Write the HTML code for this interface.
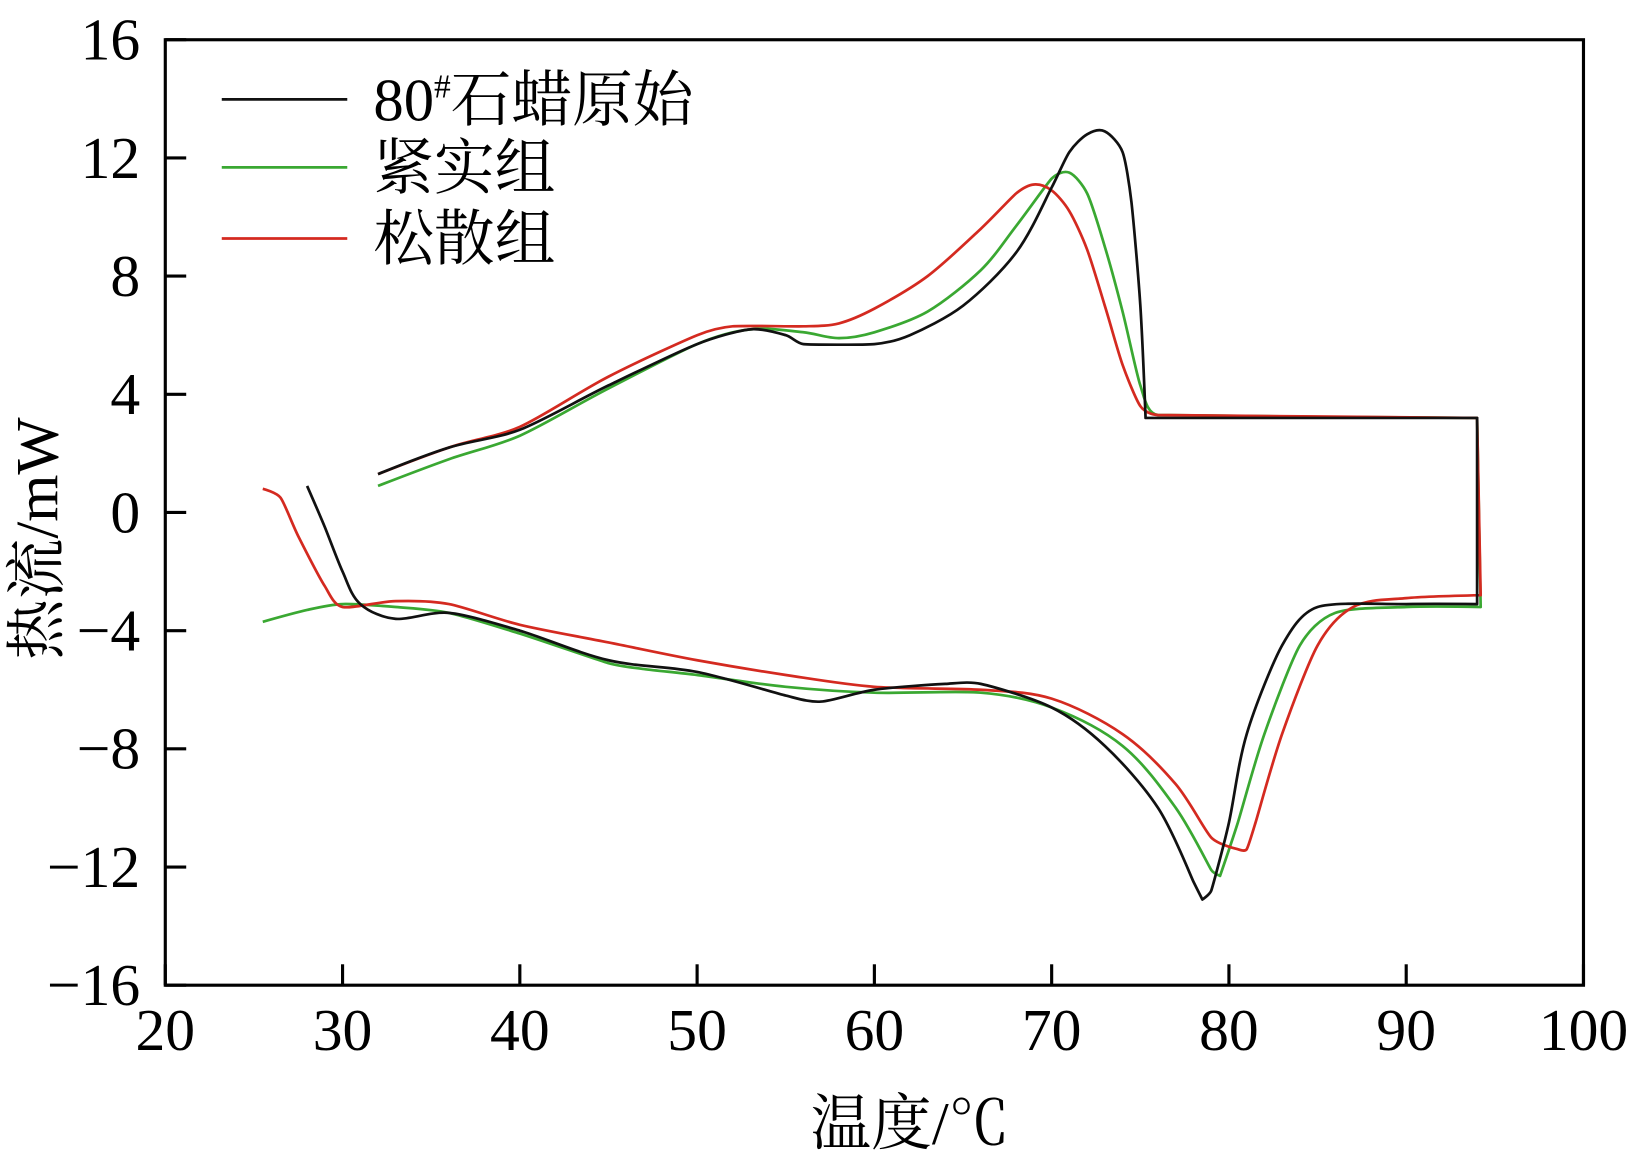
<!DOCTYPE html>
<html><head><meta charset="utf-8"><style>
html,body{margin:0;padding:0;background:#fff;}
svg{display:block;}
text{font-family:"Liberation Serif","Noto Serif CJK SC",serif;fill:#000;}
</style></head><body>
<svg id="chart" width="1640" height="1163" viewBox="0 0 1568 1112" xmlns="http://www.w3.org/2000/svg">
<g id="plot"></g>
</svg>
<script>
const xTicks=[20,30,40,50,60,70,80,90,100];
const yTicks=[16,12,8,4,0,-4,-8,-12,-16];
const blackX=[32,36,40,45,50,53,55,56,60,62,65,68,70,71,72,73,74,74.5,75,75.3,94,94,90,85,83,81,80,79,78.5,78,76,73,70,66,64,60,57,55,50,45,40,36,33,31,30,29,28];
const blackY=[1.3,2.2,2.8,4.3,5.7,6.2,6.0,5.7,5.7,6.0,7.0,8.8,11.0,12.2,12.8,12.9,12.2,10.5,7.0,3.2,3.2,-3.1,-3.1,-3.2,-4.5,-7.5,-10.5,-12.8,-13.1,-12.5,-10,-7.9,-6.6,-5.8,-5.8,-6.0,-6.4,-6.2,-5.4,-5.0,-4.0,-3.4,-3.6,-3.1,-2.0,-0.5,0.9];
const greenX=[32,36,40,45,50,53,56,58,60,63,66,68,70,71,72,73,74,75,76,94,94.2,90,86,84,82,80.5,79.5,79,77,74,70,66,60,55,50,47,45,40,36,33,30,28,25.5];
const greenY=[0.9,1.8,2.6,4.2,5.7,6.2,6.1,5.9,6.1,6.8,8.2,9.7,11.3,11.5,10.8,9.0,6.8,4.3,3.3,3.2,-3.2,-3.2,-3.4,-4.5,-7.5,-10.5,-12.3,-12.1,-10,-7.9,-6.6,-6.1,-6.1,-5.9,-5.5,-5.3,-5.1,-4.1,-3.4,-3.2,-3.1,-3.3,-3.7];
const redX=[32,36,40,45,50,52,56,58,60,63,66,68,69,70,71,72,73,74,75,76,94,94.2,90,87,85,83,81.5,81,80.5,79,77,74,70,66,60,55,50,45,40,36,33,30,29,27.5,26.5,25.5];
const redY=[1.3,2.2,2.9,4.6,6.0,6.3,6.3,6.4,6.9,8.0,9.6,10.8,11.1,10.9,10.2,8.9,7.0,5.0,3.6,3.3,3.2,-2.8,-2.9,-3.2,-4.5,-7.5,-10.5,-11.4,-11.4,-11,-9.2,-7.5,-6.3,-6.0,-5.9,-5.5,-5.0,-4.4,-3.8,-3.1,-3.0,-3.2,-2.5,-0.8,0.5,0.8];
const legendLabels=["80#石蜡原始","紧实组","松散组"];

const L=158,R=1514,T=38,B=942;
const sx=v=>L+(v-20)/80*(R-L);
const sy=v=>T+(16-v)/32*(B-T);
const NS="http://www.w3.org/2000/svg";
const g=document.getElementById('plot');
function mk(tag,attrs){const e=document.createElementNS(NS,tag);for(const k in attrs)e.setAttribute(k,attrs[k]);g.appendChild(e);return e;}

function smoothPath(pts){
  let d='M'+pts[0][0].toFixed(1)+','+pts[0][1].toFixed(1);
  const tan=pts.map((p,i)=>{
    if(i===0||i===pts.length-1)return [0,0];
    const a=pts[i-1],b=pts[i+1];
    const ux=p[0]-a[0],uy=p[1]-a[1],vx=b[0]-p[0],vy=b[1]-p[1];
    const d1=Math.hypot(ux,uy)||1,d2=Math.hypot(vx,vy)||1;
    const cos=(ux*vx+uy*vy)/(d1*d2);
    if(cos<0.2)return [0,0];
    const dx=b[0]-a[0],dy=b[1]-a[1],n=Math.hypot(dx,dy)||1;
    const m=Math.min(d1,d2)/3;
    return [dx/n*m,dy/n*m];
  });
  for(let i=0;i<pts.length-1;i++){
    const p=pts[i],q=pts[i+1];
    d+=' C'+(p[0]+tan[i][0]).toFixed(1)+','+(p[1]+tan[i][1]).toFixed(1)+' '+(q[0]-tan[i+1][0]).toFixed(1)+','+(q[1]-tan[i+1][1]).toFixed(1)+' '+q[0].toFixed(1)+','+q[1].toFixed(1);
  }
  return d;
}
function series(xs,ys,color,name){
  const pts=xs.map((x,i)=>[sx(x),sy(ys[i])]);
  const p=mk('path',{d:smoothPath(pts),fill:'none',stroke:color,'stroke-width':2.6,'stroke-linejoin':'round'});
  
  
}
series(greenX,greenY,'#3aa832','series-compact-group');
series(redX,redY,'#d42a20','series-loose-group');
series(blackX,blackY,'#111','series-paraffin-original');

const frame=mk('rect',{x:L,y:T,width:R-L,height:B-T,fill:'none',stroke:'#000','stroke-width':3});



xTicks.forEach(v=>{
  const t=mk('line',{x1:sx(v),x2:sx(v),y1:B,y2:B-20,stroke:'#000','stroke-width':3});
  
  
  const l=mk('text',{x:sx(v),y:1004,'font-size':57,'text-anchor':'middle'});
  l.textContent=v;
  
  
});
yTicks.forEach(v=>{
  const t=mk('line',{x1:L,x2:L+20,y1:sy(v),y2:sy(v),stroke:'#000','stroke-width':3});
  
  
  const l=mk('text',{x:134,y:sy(v)+19,'font-size':57,'text-anchor':'end'});
  l.textContent=v<0?'\u2212'+(-v):String(v);
  
  
});

const colors=['#111','#3aa832','#d42a20'];
const ly=[95,160,228];
legendLabels.forEach((s,i)=>{
  const ln=mk('line',{x1:212,x2:332,y1:ly[i],y2:ly[i],stroke:colors[i],'stroke-width':2.6});
  
  
  const tx=mk('text',{x:357,y:ly[i]+20,'font-size':58});
  
  
  if(i===0){
    tx.innerHTML='80<tspan font-size="32" dy="-22">#</tspan><tspan dy="22">石蜡原始</tspan>';
  } else tx.textContent=s;
});

const xt=mk('text',{x:870,y:1094,'font-size':58,'text-anchor':'middle'});
xt.textContent='温度/℃';


const yt=mk('text',{x:0,y:0,'font-size':58,'text-anchor':'middle',transform:'translate(55,515) rotate(-90)'});
yt.textContent='热流/mW';


</script>
</body></html>
